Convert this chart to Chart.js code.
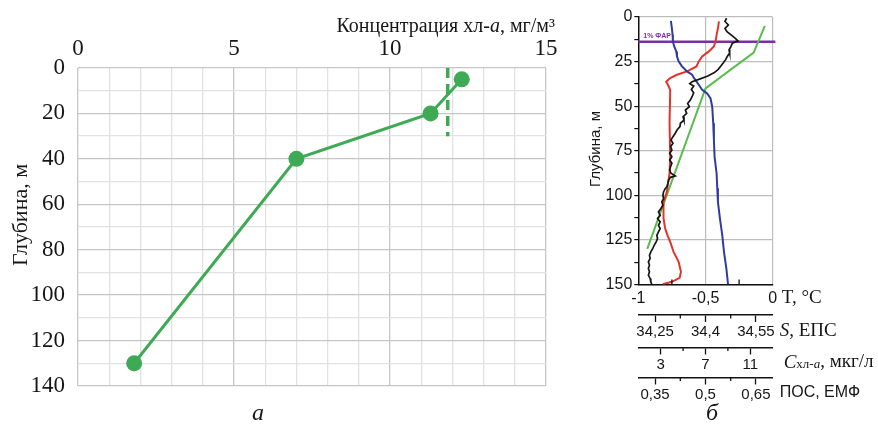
<!DOCTYPE html>
<html><head><meta charset="utf-8">
<script src="https://cdn.jsdelivr.net/npm/chart.js@4.4.1/dist/chart.umd.min.js"></script>
<style>
html,body{margin:0;padding:0;background:#fff;width:878px;height:434px;overflow:hidden}
#wa{position:absolute;left:0;top:0;width:575px;height:434px}
#wb{position:absolute;left:575px;top:0;width:303px;height:434px}
</style></head><body>
<div id="wa"><canvas id="ca"></canvas></div>
<div id="wb"><canvas id="cb"></canvas></div>
<script>
// ---------- data: panel a ----------
const chlDepth = [5, 20, 40, 130];
const chlConc = [12.3, 11.3, 7.0, 1.8];
const dashConc = [11.85, 11.85];
const dashDepth = [0, 30];
const concLabeled = [0, 5, 10, 15];

// ---------- data: panel b ----------
const tDepth = [0.7,2.5,4.5,6.4,8.2,10,11.9,13.4,14.7,16.5,18.4,20.2,22,23.9,25.7,27.6,29.5,31.3,33.2,35,36.3,37.4,38.7,40.6,42.5,44.7,46.6,48.5,50.3,52.2,54,55.9,57.8,59.6,61.5,63.4,65.2,67.1,69,70.8,72.7,74.6,76.4,78.3,80.2,82,83.9,85.8,87.6,89.1,89.9,91.4,93.3,95.2,96.3,98.1,100,101.9,103.7,105.6,107.5,109.3,111.2,113,114.9,116.8,118.6,120.5,122.4,124.2,126.1,128,129.8,131.7,133.6,135.4,137.3,139.2,141,142.9,144.8,146.6,148.5,149.8];
const tVal = [-0.343,-0.355,-0.33,-0.355,-0.34,-0.31,-0.28,-0.258,-0.30,-0.31,-0.325,-0.32,-0.337,-0.35,-0.367,-0.387,-0.407,-0.437,-0.487,-0.55,-0.6,-0.617,-0.588,-0.605,-0.588,-0.6,-0.613,-0.633,-0.62,-0.65,-0.64,-0.667,-0.66,-0.687,-0.69,-0.712,-0.725,-0.742,-0.757,-0.742,-0.76,-0.75,-0.767,-0.75,-0.767,-0.75,-0.76,-0.767,-0.757,-0.725,-0.76,-0.775,-0.78,-0.787,-0.8,-0.812,-0.817,-0.812,-0.825,-0.817,-0.833,-0.85,-0.837,-0.857,-0.837,-0.85,-0.837,-0.85,-0.862,-0.857,-0.867,-0.882,-0.892,-0.907,-0.917,-0.912,-0.925,-0.917,-0.925,-0.917,-0.925,-0.912,-0.907,-0.9];

const sDepth = [2.2,6.4,10,13.8,16.5,19.3,22.1,24.9,27.7,30.5,32.4,34.6,38,40.8,42.9,45.7,50.3,59.6,69,78.3,87.6,96,103.7,113,122.4,131.7,141,149.8];
const sVal = [34.297,34.300,34.302,34.303,34.307,34.313,34.315,34.32,34.33,34.345,34.36,34.367,34.38,34.39,34.405,34.415,34.42,34.423,34.425,34.427,34.433,34.435,34.437,34.443,34.45,34.455,34.462,34.467];

const pDepth = [2.5,6.4,10,13.8,16.5,19.3,22.1,24.9,27.7,30.5,32.4,34.2,36.3,38.7,41,59.6,78.3,87.6,95.2,98,103.7,113,118.6,122.4,126.1,131.7,137.3,142.9,146.3,148.5,149.9];
const pVal = [0.54,0.537,0.533,0.53,0.525,0.51,0.49,0.48,0.473,0.445,0.415,0.395,0.383,0.39,0.395,0.393,0.395,0.393,0.387,0.385,0.375,0.375,0.38,0.387,0.395,0.405,0.42,0.427,0.423,0.4,0.373];

const farDepth = 13.9;
const farT = [-1, 0.02];

const tTickVals = [-1, -0.75, -0.5, -0.25, 0];
const tTickLabels = ['-1', '', '-0,5', '', '0'];
const sTickVals = [34.25, 34.325, 34.4, 34.475, 34.55];
const sTickLabels = ['34,25', '', '34,4', '', '34,55'];
const cTickVals = [3, 5, 7, 9, 11];
const cTickLabels = ['3', '', '7', '', '11'];
const pTickVals = [0.35, 0.425, 0.5, 0.575, 0.65];
const pTickLabels = ['0,35', '', '0,5', '', '0,65'];

// ---------- styles ----------
const SERIF = "'Liberation Serif','Times New Roman',serif";
const SANS = "'Liberation Sans',Arial,sans-serif";
const GREEN_A = '#3eaa55';
const GREEN_B = '#58bd4a';
const RED = '#e3342c';
const BLUE = '#2f3c9e';
const BLACK = '#151515';
const PURPLE = '#7b2fa3';
const TXT = '#161616';

function segs(ctx, list, x, y, align) {
  ctx.save();
  ctx.textBaseline = 'middle';
  ctx.textAlign = 'left';
  let w = 0;
  list.forEach(s => { ctx.font = s.f; s.w = ctx.measureText(s.t).width; w += s.w; });
  let cx = align === 'right' ? x - w : (align === 'center' ? x - w / 2 : x);
  list.forEach(s => { ctx.font = s.f; ctx.fillStyle = s.c || TXT; ctx.fillText(s.t, cx, y + (s.dy || 0)); cx += s.w; });
  ctx.restore();
}
function vtext(ctx, t, x, y, font) {
  ctx.save();
  ctx.translate(x, y);
  ctx.rotate(-Math.PI / 2);
  ctx.font = font; ctx.fillStyle = TXT; ctx.textAlign = 'center'; ctx.textBaseline = 'middle';
  ctx.fillText(t, 0, 0);
  ctx.restore();
}
const xy = (xs, ys) => xs.map((x, i) => ({ x: x, y: ys[i] }));

// ---------- panel a ----------
const textA = {
  id: 'textA',
  afterDraw(chart) {
    const ctx = chart.ctx;
    segs(ctx, [
      { t: 'Концентрация хл-', f: '20px ' + SERIF },
      { t: 'а', f: 'italic 20px ' + SERIF },
      { t: ', мг/м³', f: '20px ' + SERIF }
    ], 555, 27, 'right');
    vtext(ctx, 'Глубина, м', 21, 215, '22px ' + SERIF);
    segs(ctx, [{ t: 'а', f: 'italic 24px ' + SERIF }], 258, 414, 'center');
  }
};

new Chart(document.getElementById('ca'), {
  type: 'scatter',
  data: {
    datasets: [
      { data: xy(chlConc, chlDepth), showLine: true, borderColor: GREEN_A, backgroundColor: GREEN_A,
        borderWidth: 3, pointRadius: 8, pointHoverRadius: 8, pointBorderWidth: 0 },
      { data: xy(dashConc, dashDepth), showLine: true, borderColor: GREEN_A, borderWidth: 3.5,
        borderDash: [10, 6], pointRadius: 0 }
    ]
  },
  options: {
    responsive: true, maintainAspectRatio: false, animation: false, devicePixelRatio: 1,
    layout: { padding: { left: 0, top: 0, right: 29, bottom: 48 } },
    plugins: { legend: { display: false }, tooltip: { enabled: false } },
    scales: {
      x: {
        type: 'linear', position: 'top', min: 0, max: 15,
        ticks: { stepSize: 1, autoSkip: false, maxRotation: 0, padding: 5, color: TXT,
          font: { family: SERIF, size: 23 },
          callback: v => concLabeled.includes(v) ? String(v) : '' },
        grid: { color: c => (c.tick && c.tick.value % 5 === 0) ? '#c6c6c6' : '#e2e2e2', lineWidth: 1.3, drawTicks: false },
        border: { display: false },
        afterFit: s => { s.height = 68; }
      },
      y: {
        type: 'linear', reverse: true, min: 0, max: 140,
        ticks: { stepSize: 10, autoSkip: false, padding: 13, color: TXT,
          font: { family: SERIF, size: 23 },
          callback: v => v % 20 === 0 ? String(v) : '' },
        grid: { color: c => (c.tick && c.tick.value % 20 === 0) ? '#c6c6c6' : '#e2e2e2', lineWidth: 1.3, drawTicks: false },
        border: { display: false },
        afterFit: s => { s.width = 78; }
      }
    }
  },
  plugins: [textA]
});

// ---------- panel b ----------
const setTicks = vals => axis => { axis.ticks = vals.map(v => ({ value: v })); };
const labelFrom = labels => (v, i) => labels[i];

const textB = {
  id: 'textB',
  afterDraw(chart) {
    const ctx = chart.ctx;
    const sc = chart.scales;
    ctx.save();
    ctx.strokeStyle = '#111';
    ctx.lineWidth = 1.3;
    [-0.75, -0.25].forEach(v => {
      const px = sc.x.getPixelForValue(v);
      ctx.beginPath(); ctx.moveTo(px, sc.x.top); ctx.lineTo(px, sc.x.top - 5); ctx.stroke();
    });
    [[sc.xS, [34.325, 34.475]], [sc.xC, [5, 9]], [sc.xP, [0.425, 0.575]]].forEach(([s, vals]) => {
      vals.forEach(v => {
        const px = s.getPixelForValue(v);
        ctx.beginPath(); ctx.moveTo(px, s.top); ctx.lineTo(px, s.top + 3.5); ctx.stroke();
      });
    });
    ctx.restore();
    const right = chart.chartArea.right;
    segs(ctx, [{ t: 'T, °C', f: '19px ' + SERIF }], right + 9, sc.x.top + 14);
    segs(ctx, [{ t: 'S', f: 'italic 19px ' + SERIF }, { t: ', ЕПС', f: '19px ' + SERIF }], right + 7, sc.xS.top + 16);
    segs(ctx, [
      { t: 'C', f: 'italic 19px ' + SERIF },
      { t: 'хл-', f: '13px ' + SERIF, dy: 2 },
      { t: 'а', f: 'italic 13px ' + SERIF, dy: 2 },
      { t: ', мкг/л', f: '19px ' + SERIF }
    ], right + 11, sc.xC.top + 15);
    segs(ctx, [{ t: 'ПОС, ЕМФ', f: '16px ' + SANS }], right + 7, sc.xP.top + 15);
    vtext(ctx, 'Глубина, м', 21, 149, '15px ' + SANS);
    const fy = sc.y.getPixelForValue(farDepth);
    segs(ctx, [{ t: '1% ФАР', f: 'bold 7px ' + SANS, c: PURPLE }], chart.chartArea.left + 5, fy - 6);
    segs(ctx, [{ t: 'б', f: 'italic 24px ' + SERIF }], 137, 414, 'center');
  }
};

const tickFont = { family: SANS, size: 15 };
const extraAxis = (vals, labels, weight, h, mn, mx) => ({
  type: 'linear', position: 'bottom', weight: weight, min: mn, max: mx,
  afterBuildTicks: setTicks(vals),
  ticks: { autoSkip: false, maxRotation: 0, padding: 1, color: TXT, font: tickFont, callback: labelFrom(labels) },
  grid: { display: true, drawOnChartArea: false, drawTicks: true, tickLength: 7, tickWidth: 1.3,
    tickColor: c => (c.index % 2 === 0) ? '#111' : 'rgba(0,0,0,0)' },
  border: { display: true, color: '#111', width: 1.5 },
  afterFit: s => { s.height = h; }
});

new Chart(document.getElementById('cb'), {
  type: 'scatter',
  data: {
    datasets: [
      { data: xy(tVal, tDepth), xAxisID: 'x', showLine: true, borderColor: BLACK, borderWidth: 1.7, pointRadius: 0 },
      { data: xy(sVal, sDepth), xAxisID: 'xS', showLine: true, borderColor: BLUE, borderWidth: 2, pointRadius: 0 },
      { data: xy(pVal, pDepth), xAxisID: 'xP', showLine: true, borderColor: RED, borderWidth: 2, pointRadius: 0 },
      { data: xy(chlConc, chlDepth), xAxisID: 'xC', showLine: true, borderColor: GREEN_B, borderWidth: 2, pointRadius: 0 },
      { data: xy(farT, [farDepth, farDepth]), xAxisID: 'x', showLine: true, borderColor: PURPLE, borderWidth: 2.5, pointRadius: 0, clip: false }
    ]
  },
  options: {
    responsive: true, maintainAspectRatio: false, animation: false, devicePixelRatio: 1,
    layout: { padding: { left: 0, top: 17, right: 105.3, bottom: 31.5 } },
    plugins: { legend: { display: false }, tooltip: { enabled: false } },
    scales: {
      x: {
        type: 'linear', position: 'bottom', weight: 0, min: -1, max: 0,
        afterBuildTicks: setTicks(tTickVals),
        ticks: { autoSkip: false, maxRotation: 0, padding: 4, color: TXT, font: { family: SANS, size: 16 }, callback: labelFrom(tTickLabels) },
        grid: { color: c => (c.tick && (c.tick.value === -0.5 || c.tick.value === 0)) ? '#bdbdbd' : 'rgba(0,0,0,0)', lineWidth: 1.2, drawTicks: false },
        border: { display: true, color: '#111', width: 1.5 },
        afterFit: s => { s.height = 30.5; }
      },
      xS: extraAxis(sTickVals, sTickLabels, 1, 32.5, 34.2, 34.6),
      xC: extraAxis(cTickVals, cTickLabels, 2, 30, 1, 13),
      xP: extraAxis(pTickVals, pTickLabels, 3, 25, 0.3, 0.7),
      y: {
        type: 'linear', position: 'left', reverse: true, min: 0, max: 150,
        ticks: { stepSize: 12.5, autoSkip: false, padding: 2, color: TXT, font: { family: SANS, size: 16 },
          callback: v => v % 25 === 0 ? String(v) : '' },
        grid: { color: c => (c.tick && c.tick.value % 25 === 0) ? '#bdbdbd' : 'rgba(0,0,0,0)', lineWidth: 1.2,
          drawTicks: true, tickLength: 4, tickColor: '#111', tickWidth: 1.2 },
        border: { display: true, color: '#111', width: 1.5 },
        afterFit: s => { s.width = 63.3; }
      }
    }
  },
  plugins: [textB]
});
</script>
</body></html>
